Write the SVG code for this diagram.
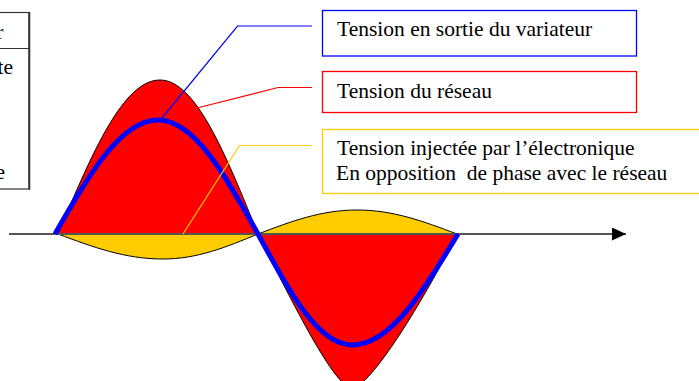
<svg xmlns="http://www.w3.org/2000/svg" width="699" height="381" viewBox="0 0 699 381">
  <style>
    .lbl { font-family: "Liberation Serif", "Times New Roman", serif; font-size: 21.5px; fill: #000; }
    .box { fill: #fff; stroke-width: 1.3; }
    .lead { fill: none; stroke-width: 1.2; }
    .wave { stroke: #000; stroke-width: 1; stroke-linejoin: round; }
  </style>
  <defs>
    <marker id="arrow" viewBox="0 0 14 13" refX="14" refY="6.5" markerWidth="14" markerHeight="13" markerUnits="userSpaceOnUse" orient="auto">
      <path d="M0,0 L14,6.5 L0,13 Z" fill="#000"/>
    </marker>
  </defs>
  <rect width="699" height="381" fill="#fff"/>

  <g id="table">
    <rect x="-10" y="12.5" width="39.5" height="176.5" fill="#fff" stroke="#333" stroke-width="1.2"/>
    <line x1="29.2" y1="12" x2="29.2" y2="189.5" stroke="#333" stroke-width="2"/>
    <line x1="-10" y1="48.5" x2="29" y2="48.5" stroke="#333" stroke-width="1.2"/>
    <text class="lbl" x="3.5" y="39" text-anchor="end">r</text>
    <text class="lbl" x="13" y="74" text-anchor="end">te</text>
    <text class="lbl" x="5" y="179" text-anchor="end">e</text>
  </g>

  <g id="waveforms">
    <path id="yellow-wave" class="wave" fill="#ffcc00" d="M58,234 C93.1,247.1 125,259 163,259 C197.4,259 226.2,247.1 258,234 C291.1,221.4 321.2,210 357,210 C393.2,210 423.6,221.4 457,234 Z"/>
    <path id="red-wave" class="wave" fill="#ff0000" d="M58,234 C92.1,153.1 123.1,80 160,80 C195.5,80 225.2,153.1 258,234 C293,304 335,388 352,388 C370,388 424,300 457,234 Z"/>
    <line id="axis" x1="9" y1="234" x2="626" y2="234" stroke="#555" stroke-width="1.8" marker-end="url(#arrow)"/>
    <path id="blue-wave" fill="none" stroke="#0000ff" stroke-width="5" d="M55,234 C89.4,174.1 120.7,120 158,120 C194.2,120 224.6,174.1 258,234 C289.4,292.3 318,345 352,345 C390.4,345 422.6,292.3 458,234"/>
  </g>

  <g id="connectors">
    <path class="lead" stroke="#0000ff" d="M162,118 L237.5,26 L312,26"/>
    <path class="lead" stroke="#ff0000" d="M195,108.5 L278,87.5 L312,87.5"/>
    <path class="lead" stroke="#ffcc00" d="M183,234 L239.5,145.5 L312,145.5"/>
  </g>

  <g id="box-variateur">
    <rect class="box" x="322.5" y="10.5" width="314" height="45.5" stroke="#0000ff"/>
    <text class="lbl" x="337" y="36">Tension en sortie du variateur</text>
  </g>

  <g id="box-reseau">
    <rect class="box" x="322.5" y="71.5" width="314" height="41" stroke="#ff0000"/>
    <text class="lbl" x="337" y="98">Tension du réseau</text>
  </g>

  <g id="box-injectee">
    <rect class="box" x="322.5" y="129.5" width="385" height="64" stroke="#ffcc00"/>
    <text class="lbl" x="337" y="155">Tension injectée par l’électronique</text>
    <text class="lbl" x="336" y="180" xml:space="preserve">En opposition  de phase avec le réseau</text>
  </g>
</svg>
